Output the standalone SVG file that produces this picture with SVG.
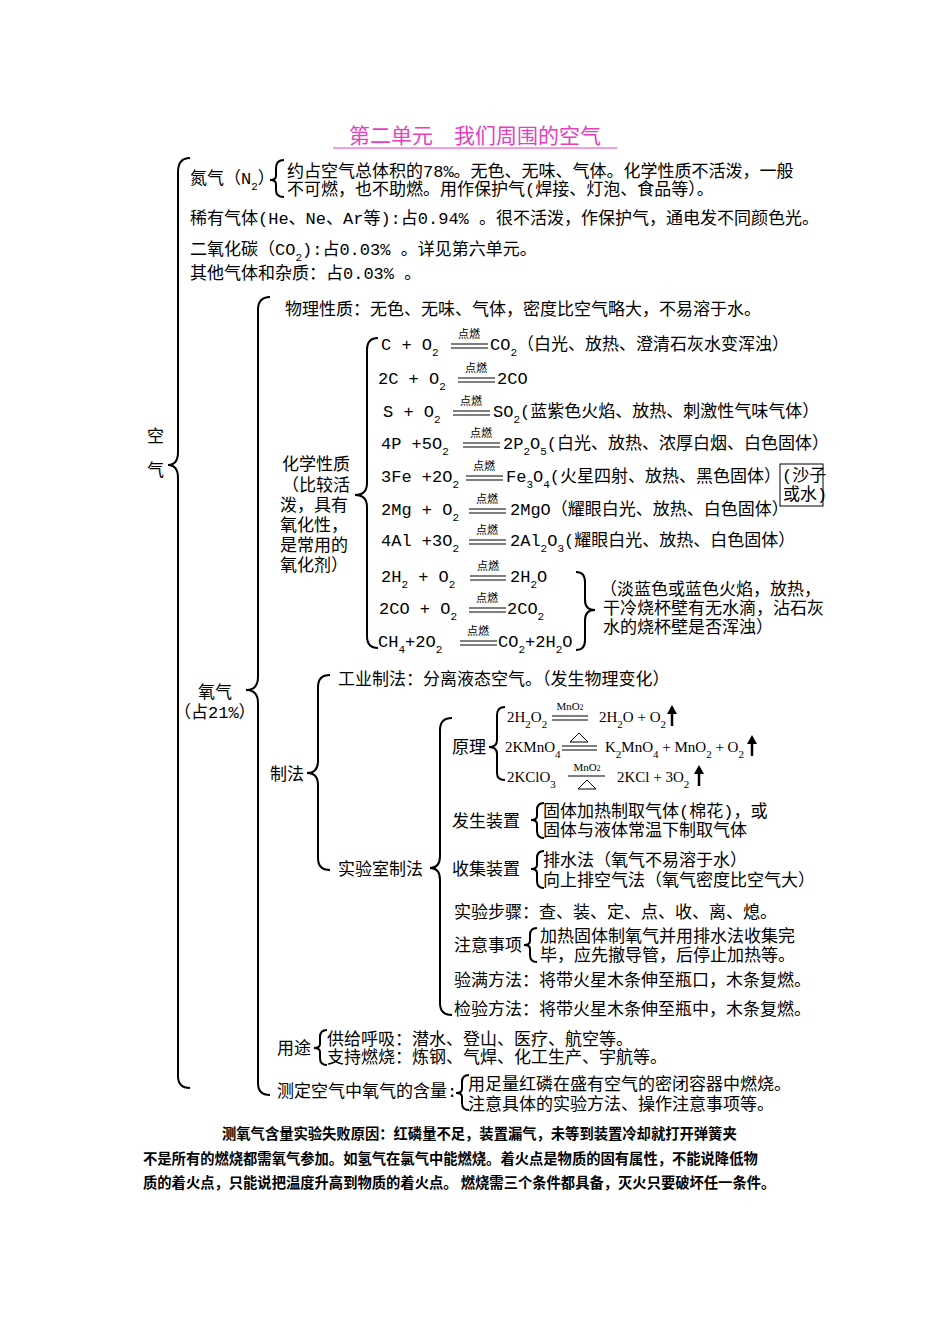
<svg xmlns="http://www.w3.org/2000/svg" width="950" height="1344" viewBox="0 0 950 1344">
<style>
text{font-family:"Liberation Mono","Noto Sans CJK SC",monospace;font-size:17px;fill:#000}
.s{font-size:11px;baseline-shift:sub}
.c{font-size:11px;text-anchor:middle;font-family:"Noto Sans CJK SC",sans-serif}
.lab{font-family:"Liberation Serif","Noto Sans CJK SC",serif;font-size:15px}
.bold{font-family:"Noto Sans CJK SC",sans-serif;font-size:14.3px;font-weight:bold}
.br{fill:none;stroke:#000;stroke-width:2}
.eq{stroke:#000;stroke-width:1.2}
.ar{stroke:#000;stroke-width:2.5}
</style>
<rect width="950" height="1344" fill="#fff"/>
<g id="title"><text x="475" y="143" text-anchor="middle" style="font-family:'Noto Sans CJK SC',sans-serif;font-size:21px;fill:#E83EC0">第二单元　我们周围的空气</text><line x1="333" y1="148" x2="617" y2="148" stroke="#E83EC0" stroke-width="1"/></g>
<g id="connectors">
<path class="br" d="M190,158 Q178,158 178,172 L178,452 Q178,465 168,465 Q178,465 178,478 L178,1076 Q178,1088 190,1088"/>
<path class="br" d="M284,160 Q276,160 276,168 L276,176 Q276,180 270,180 Q276,180 276,184 L276,190 Q276,197 284,197"/>
<path class="br" d="M270,297 Q258,297 258,310 L258,677 Q258,690 246,690 Q258,690 258,703 L258,1083 Q258,1095 270,1095"/>
<path class="br" d="M378,338 Q367,338 367,350 L367,483 Q367,495 355,495 Q367,495 367,507 L367,636 Q367,648 378,648"/>
<path class="br" d="M576,572 Q585,572 585,582 L585,600 Q585,610 595,610 Q585,610 585,620 L585,640 Q585,650 576,650"/>
<path class="br" d="M330,675 Q318,675 318,687 L318,761 Q318,773 307,773 Q318,773 318,785 L318,858 Q318,870 330,870"/>
<path class="br" d="M452,718 Q440,718 440,730 L440,856 Q440,868 430,868 Q440,868 440,880 L440,1003 Q440,1015 452,1015"/>
<path class="br" d="M505,707 Q497,707 497,715 L497,740 Q497,747 489,747 Q497,747 497,754 L497,773 Q497,780 505,780"/>
<path class="br" d="M544,803 Q537,803 537,810 L537,816 Q537,820 531,820 Q537,820 537,824 L537,831 Q537,838 544,838"/>
<path class="br" d="M544,851 Q537,851 537,858 L537,865 Q537,869 531,869 Q537,869 537,873 L537,881 Q537,888 544,888"/>
<path class="br" d="M537,928 Q530,928 530,935 L530,941 Q530,945 524,945 Q530,945 530,949 L530,955 Q530,962 537,962"/>
<path class="br" d="M327,1030 Q320,1030 320,1037 L320,1044 Q320,1048 314,1048 Q320,1048 320,1052 L320,1058 Q320,1065 327,1065"/>
<path class="br" d="M469,1075 Q462,1075 462,1082 L462,1089 Q462,1093 456,1093 Q462,1093 462,1097 L462,1103 Q462,1110 469,1110"/>
<rect x="780" y="464" width="43" height="42" fill="none" stroke="#000" stroke-width="1"/>
</g>
<g id="air"><text x="147" y="442">空</text><text x="147" y="476">气</text></g>
<g id="n2"><text x="190" y="184">氮气（N<tspan class="s">2</tspan>）</text>
<text x="287" y="177">约占空气总体积的78%。无色、无味、气体。化学性质不活泼，一般</text>
<text x="287" y="195">不可燃，也不助燃。用作保护气(焊接、灯泡、食品等）。</text></g>
<g id="rare"><text x="190" y="224">稀有气体(He、Ne、Ar等):占0.94% 。很不活泼，作保护气，通电发不同颜色光。</text></g>
<g id="co2"><text x="190" y="255">二氧化碳（CO<tspan class="s">2</tspan>):占0.03% 。详见第六单元。</text></g>
<g id="other"><text x="190" y="279">其他气体和杂质：占0.03% 。</text></g>
<g id="o2"><text x="198" y="698">氧气</text><text x="174" y="718">（占21%）</text></g>
<g id="phys"><text x="285" y="315">物理性质：无色、无味、气体，密度比空气略大，不易溶于水。</text></g>
<g id="chem"><text x="282" y="470">化学性质</text><text x="282" y="491">（比较活</text><text x="280" y="511">泼，具有</text><text x="280" y="531">氧化性，</text><text x="280" y="551">是常用的</text><text x="280" y="571">氧化剂）</text></g>
<g id="reactions">
<text x="381" y="350">C + O<tspan class="s">2</tspan></text><line class="eq" x1="451" y1="344" x2="488" y2="344"/><line class="eq" x1="451" y1="348" x2="488" y2="348"/><text class="c" x="469" y="338">点燃</text><text x="490" y="350">CO<tspan class="s">2</tspan>（白光、放热、澄清石灰水变浑浊）</text>
<text x="378" y="384">2C + O<tspan class="s">2</tspan></text><line class="eq" x1="458" y1="378" x2="495" y2="378"/><line class="eq" x1="458" y1="382" x2="495" y2="382"/><text class="c" x="476" y="372">点燃</text><text x="497" y="384">2CO</text>
<text x="383" y="417">S + O<tspan class="s">2</tspan></text><line class="eq" x1="453" y1="411" x2="490" y2="411"/><line class="eq" x1="453" y1="415" x2="490" y2="415"/><text class="c" x="471" y="405">点燃</text><text x="493" y="417">SO<tspan class="s">2</tspan>(蓝紫色火焰、放热、刺激性气味气体）</text>
<text x="381" y="449">4P +5O<tspan class="s">2</tspan></text><line class="eq" x1="463" y1="443" x2="500" y2="443"/><line class="eq" x1="463" y1="447" x2="500" y2="447"/><text class="c" x="481" y="437">点燃</text><text x="503" y="449">2P<tspan class="s">2</tspan>O<tspan class="s">5</tspan>(白光、放热、浓厚白烟、白色固体）</text>
<text x="381" y="482">3Fe +2O<tspan class="s">2</tspan></text><line class="eq" x1="466" y1="476" x2="503" y2="476"/><line class="eq" x1="466" y1="480" x2="503" y2="480"/><text class="c" x="484" y="470">点燃</text><text x="506" y="482">Fe<tspan class="s">3</tspan>O<tspan class="s">4</tspan>(火星四射、放热、黑色固体）</text>
<text x="782" y="481">(沙子</text><text x="783" y="500">或水)</text>
<text x="381" y="515">2Mg + O<tspan class="s">2</tspan></text><line class="eq" x1="469" y1="509" x2="506" y2="509"/><line class="eq" x1="469" y1="513" x2="506" y2="513"/><text class="c" x="487" y="503">点燃</text><text x="510" y="515">2MgO（耀眼白光、放热、白色固体）</text>
<text x="381" y="546">4Al +3O<tspan class="s">2</tspan></text><line class="eq" x1="469" y1="540" x2="506" y2="540"/><line class="eq" x1="469" y1="544" x2="506" y2="544"/><text class="c" x="487" y="534">点燃</text><text x="510" y="546">2Al<tspan class="s">2</tspan>O<tspan class="s">3</tspan>(耀眼白光、放热、白色固体）</text>
<text x="381" y="582">2H<tspan class="s">2</tspan> + O<tspan class="s">2</tspan></text><line class="eq" x1="470" y1="576" x2="506" y2="576"/><line class="eq" x1="470" y1="580" x2="506" y2="580"/><text class="c" x="488" y="570">点燃</text><text x="510" y="582">2H<tspan class="s">2</tspan>O</text>
<text x="379" y="614">2CO + O<tspan class="s">2</tspan></text><line class="eq" x1="469" y1="608" x2="506" y2="608"/><line class="eq" x1="469" y1="612" x2="506" y2="612"/><text class="c" x="487" y="602">点燃</text><text x="507" y="614">2CO<tspan class="s">2</tspan></text>
<text x="378" y="647">CH<tspan class="s">4</tspan>+2O<tspan class="s">2</tspan></text><line class="eq" x1="460" y1="641" x2="497" y2="641"/><line class="eq" x1="460" y1="645" x2="497" y2="645"/><text class="c" x="478" y="635">点燃</text><text x="498" y="647">CO<tspan class="s">2</tspan>+2H<tspan class="s">2</tspan>O</text>
<text x="600" y="595">（淡蓝色或蓝色火焰，放热，</text><text x="603" y="614">干冷烧杯壁有无水滴，沾石灰</text><text x="603" y="633">水的烧杯壁是否浑浊）</text>
</g>
<g id="prep"><text x="270" y="780">制法</text><text x="338" y="685">工业制法：分离液态空气。（发生物理变化）</text><text x="338" y="875">实验室制法</text></g>
<g id="principle"><text x="452" y="753">原理</text>
<text class="lab" x="507" y="722">2H<tspan class="s">2</tspan>O<tspan class="s">2</tspan></text><line class="eq" x1="552" y1="716" x2="588" y2="716"/><line class="eq" x1="552" y1="720" x2="588" y2="720"/><text class="c" x="570" y="710" style="font-family:'Liberation Serif',serif">MnO<tspan font-size="8">2</tspan></text><text class="lab" x="599" y="722">2H<tspan class="s">2</tspan>O + O<tspan class="s">2</tspan></text><line class="ar" x1="672" y1="726" x2="672" y2="713"/><polygon points="667,714 672,705 677,714"/>
<text class="lab" x="505" y="752">2KMnO<tspan class="s">4</tspan></text><line class="eq" x1="562" y1="746" x2="597" y2="746"/><line class="eq" x1="562" y1="750" x2="597" y2="750"/><path d="M570,742 L579,733 L588,742Z" fill="none" stroke="#000"/><text class="lab" x="605" y="752">K<tspan class="s">2</tspan>MnO<tspan class="s">4</tspan> + MnO<tspan class="s">2</tspan> + O<tspan class="s">2</tspan></text><line class="ar" x1="752" y1="756" x2="752" y2="743"/><polygon points="747,744 752,735 757,744"/>
<text class="lab" x="507" y="782">2KClO<tspan class="s">3</tspan></text><line class="eq" x1="568" y1="776" x2="605" y2="776"/><text class="c" x="587" y="771" style="font-family:'Liberation Serif',serif">MnO<tspan font-size="8">2</tspan></text><path d="M578,789 L587,780 L596,789Z" fill="none" stroke="#000"/><text class="lab" x="617" y="782">2KCl + 3O<tspan class="s">2</tspan></text><line class="ar" x1="699" y1="786" x2="699" y2="773"/><polygon points="694,774 699,765 704,774"/>
</g>
<g id="device"><text x="452" y="827">发生装置</text><text x="543" y="817">固体加热制取气体(棉花)，或</text><text x="543" y="836">固体与液体常温下制取气体</text></g>
<g id="collect"><text x="452" y="875">收集装置</text><text x="543" y="866">排水法（氧气不易溶于水）</text><text x="543" y="886">向上排空气法（氧气密度比空气大）</text></g>
<g id="steps"><text x="454" y="918">实验步骤：查、装、定、点、收、离、熄。</text></g>
<g id="notes"><text x="454" y="951">注意事项</text><text x="540" y="942">加热固体制氧气并用排水法收集完</text><text x="540" y="961">毕，应先撤导管，后停止加热等。</text></g>
<g id="full"><text x="454" y="986">验满方法：将带火星木条伸至瓶口，木条复燃。</text></g>
<g id="test"><text x="454" y="1015">检验方法：将带火星木条伸至瓶中，木条复燃。</text></g>
<g id="use"><text x="277" y="1054">用途</text><text x="327" y="1045">供给呼吸：潜水、登山、医疗、航空等。</text><text x="327" y="1063">支持燃烧：炼钢、气焊、化工生产、宇航等。</text></g>
<g id="measure"><text x="277" y="1097">测定空气中氧气的含量:</text><text x="468" y="1090">用足量红磷在盛有空气的密闭容器中燃烧。</text><text x="468" y="1110">注意具体的实验方法、操作注意事项等。</text></g>
<g id="footer"><text class="bold" x="222" y="1139">测氧气含量实验失败原因：红磷量不足，装置漏气，未等到装置冷却就打开弹簧夹</text>
<text class="bold" x="143" y="1164">不是所有的燃烧都需氧气参加。如氢气在氯气中能燃烧。着火点是物质的固有属性，不能说降低物</text>
<text class="bold" x="143" y="1188">质的着火点，只能说把温度升高到物质的着火点。 燃烧需三个条件都具备，灭火只要破坏任一条件。</text></g>
</svg>
